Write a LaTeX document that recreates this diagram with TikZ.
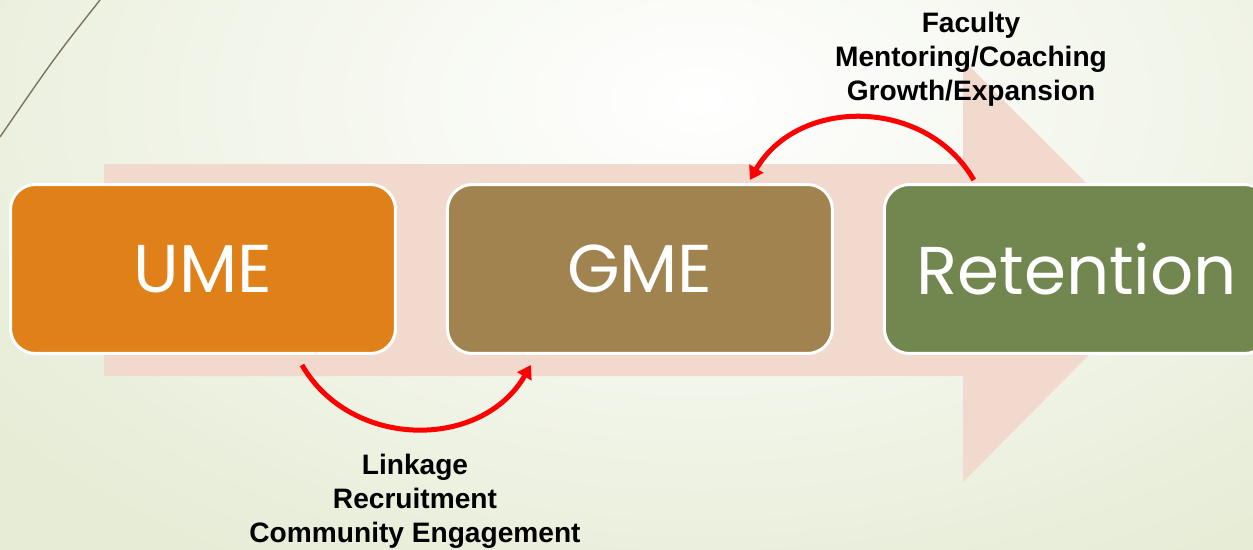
\documentclass[tikz,border=0pt]{standalone}
\usepackage{fontspec}
\setmainfont{Liberation Sans}
\newfontfamily\boxfont{Poppins}
\usetikzlibrary{positioning, arrows.meta}

\definecolor{umeorange}{HTML}{DF8019}
\definecolor{gmebrown}{HTML}{A0834F}
\definecolor{retgreen}{HTML}{72874F}
\definecolor{flowpink}{HTML}{F2D9CE}
\definecolor{bgedge}{HTML}{E6ECD6}
\definecolor{swoosh}{HTML}{7A7560}

\tikzset{
  stage/.style={rounded corners=0.5cm, draw=white, line width=1.7pt,
    minimum width=7.7cm, minimum height=3.38cm, text=white,
    font=\boxfont\fontsize{38.5}{46}\selectfont},
  notetext/.style={align=center, font=\bfseries\fontsize{16}{19.3}\selectfont},
  bendarrow/.style={red, line width=2.85pt, -{Triangle[length=7.5pt, width=9pt]}}
}

\begin{document}
\begin{tikzpicture}[x=0.02cm, y=0.02cm]
  \useasboundingbox (0,0) rectangle (1253,549);
  \begin{scope}
    \clip (0,0) rectangle (1253,549);
    % sfondo sfumato e linea decorativa
    \shade[inner color=white, outer color=bgedge] (-200,-100) rectangle (1600,998);
    \draw[swoosh, line width=0.8pt] (100,549) .. controls (55,492) .. (0,412);
    % freccia di fondo
    \fill[flowpink] (104,173) -- (963,173) -- (963,67) -- (1173,279)
      -- (963,489) -- (963,385) -- (104,385) -- cycle;
    % fasi
    \node[stage, fill=umeorange] (ume) at (203,280) {UME};
    \node[stage, fill=gmebrown, right=0.98cm of ume] (gme) {GME};
    \node[stage, fill=retgreen, right=0.98cm of gme] (ret) {Retention};
    % estremi delle frecce curve
    \coordinate[below right=0.2cm and 1.98cm of ume.south] (lkStart);
    \coordinate[below left=0.2cm and 2.18cm of gme.south] (lkEnd);
    \coordinate[above left=0.06cm and 2.06cm of ret.north] (fcStart);
    \coordinate[above right=0.06cm and 2.2cm of gme.north] (fcEnd);
    \draw[bendarrow] (lkStart) to[out=-60, in=-120, looseness=1.1] (lkEnd);
    \draw[bendarrow] (fcStart) to[out=120, in=60, looseness=1.1] (fcEnd);
    % etichette
    \node[notetext] (linkage) at (415,48) {Linkage\\Recruitment\\Community Engagement};
    \node[notetext] (faculty) at (971,490) {Faculty\\Mentoring/Coaching\\Growth/Expansion};
  \end{scope}
\end{tikzpicture}
\end{document}
